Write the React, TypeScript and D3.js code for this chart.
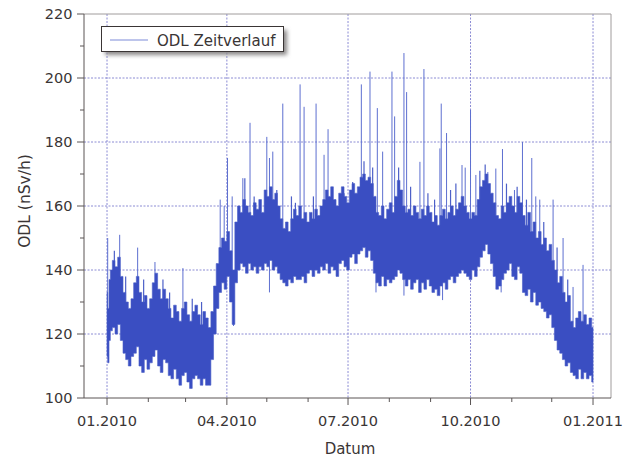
import React from "react";
import * as d3 from "d3";

// Envelope of the ODL time series (days since 01.01.2010, upper / lower value of dense band)
const bandDays = [0, 1, 2, 3, 5, 7, 9, 11, 13, 15, 17, 19, 21, 23, 25, 27, 29, 31, 33, 35, 37, 39, 41, 43, 45, 47, 49, 51, 53, 55, 57, 59, 61, 63, 65, 67, 69, 71, 73, 75, 77, 79, 81, 83, 85, 87, 89, 91, 93, 95, 97, 99, 101, 103, 105, 107, 109, 111, 113, 115, 117, 119, 121, 123, 125, 127, 129, 131, 133, 135, 137, 139, 141, 143, 145, 147, 149, 151, 153, 155, 157, 159, 161, 163, 165, 167, 169, 171, 173, 175, 177, 179, 181, 183, 185, 187, 189, 191, 193, 195, 197, 199, 201, 203, 205, 207, 209, 211, 213, 215, 217, 219, 221, 223, 225, 227, 229, 231, 233, 235, 237, 239, 241, 243, 245, 247, 249, 251, 253, 255, 257, 259, 261, 263, 265, 267, 269, 271, 273, 275, 277, 279, 281, 283, 285, 287, 289, 291, 293, 295, 297, 299, 301, 303, 305, 307, 309, 311, 313, 315, 317, 319, 321, 323, 325, 327, 329, 331, 333, 335, 337, 339, 341, 343, 345, 347, 349, 351, 353, 355, 357, 359, 361, 363, 365];
const bandHigh = [133, 128, 137, 140, 143, 141, 144, 138, 133, 130, 128, 131, 136, 138, 133, 130, 132, 128, 131, 136, 139, 134, 131, 134, 131, 128, 125, 129, 127, 124, 128, 130, 126, 124, 127, 129, 126, 123, 127, 125, 122, 127, 135, 142, 147, 150, 149, 152, 146, 140, 155, 160, 158, 162, 160, 158, 157, 161, 159, 162, 158, 165, 163, 166, 162, 164, 160, 156, 153, 155, 152, 156, 159, 157, 160, 156, 158, 155, 158, 156, 159, 157, 160, 162, 165, 163, 166, 162, 160, 164, 166, 163, 161, 165, 167, 164, 166, 169, 170, 168, 169, 167, 163, 158, 157, 160, 156, 159, 161, 158, 163, 168, 165, 160, 158, 159, 157, 160, 158, 156, 159, 157, 160, 158, 155, 157, 154, 157, 159, 156, 158, 160, 157, 159, 161, 163, 160, 158, 156, 158, 157, 162, 166, 168, 170, 167, 164, 161, 157, 156, 160, 158, 161, 163, 160, 158, 163, 161, 157, 154, 158, 152, 155, 150, 152, 148, 150, 146, 148, 143, 140, 136, 138, 133, 130, 132, 124, 122, 125, 127, 124, 126, 123, 125, 122];
const bandLow = [113, 111, 118, 121, 122, 120, 123, 118, 114, 112, 110, 113, 114, 116, 110, 108, 112, 109, 111, 113, 115, 110, 108, 112, 111, 107, 106, 109, 106, 104, 107, 108, 105, 103, 106, 107, 106, 104, 106, 104, 104, 112, 120, 128, 133, 136, 134, 138, 130, 123, 136, 140, 142, 141, 139, 142, 140, 141, 139, 141, 140, 142, 141, 143, 140, 141, 139, 137, 136, 135, 137, 136, 138, 137, 137, 138, 136, 139, 140, 138, 140, 139, 141, 140, 142, 139, 141, 140, 138, 142, 143, 141, 140, 144, 145, 142, 145, 146, 147, 144, 146, 143, 139, 136, 135, 138, 135, 137, 136, 137, 138, 140, 139, 137, 135, 137, 134, 136, 137, 133, 136, 134, 137, 135, 133, 134, 132, 135, 136, 134, 137, 138, 136, 138, 139, 140, 139, 138, 137, 140, 138, 141, 144, 146, 148, 145, 142, 138, 134, 135, 137, 139, 140, 142, 138, 137, 141, 139, 133, 132, 134, 130, 133, 129, 130, 128, 127, 125, 126, 122, 118, 115, 114, 112, 110, 111, 108, 107, 106, 109, 106, 108, 106, 107, 105];

// Isolated upward spikes (day, value)
const spikeDays = [0.5, 9.5, 23, 36, 57, 85, 88, 90.5, 94, 102, 107.4, 120, 122, 124.5, 132, 145, 148, 157, 163, 166, 191, 197.5, 203, 207, 214, 216, 223, 225, 235, 238, 250, 251, 255, 266.6, 273, 269, 277, 286, 292, 297, 306, 312, 319, 322, 325, 335, 342.5, 350, 357.5];
const spikeValues = [150, 151, 147, 142.5, 140.6, 162, 160, 175, 163, 168.7, 186, 181.6, 175, 177, 192, 198, 191, 192, 176, 184, 198, 202, 190.6, 177, 202, 188, 207.8, 195.6, 173.8, 202.8, 178, 192, 182.8, 172.8, 190, 172, 169.7, 170.6, 171.7, 177.8, 165, 180, 175, 163, 162, 162, 150, 134.7, 141.6];

// Short needles just above the band (day, value)
const needleDays = [5.5, 14, 27.5, 42, 47, 64, 71, 103.5, 110.5, 122.5, 127.5, 138.5, 141.5, 155, 178, 184.5, 193, 199.5, 219, 228, 241, 246, 258, 262, 280, 284, 300, 308, 315, 328, 338, 346];
const needleValues = [146, 138, 137, 137, 133, 131, 130, 168.7, 163, 165.6, 165, 163, 161, 163, 164, 167.5, 174, 172, 172, 166, 164, 162, 165, 167, 171, 173, 167, 166, 162, 155, 147, 137];

// Isolated downward spikes (day, value)
const dipDays = [95, 122, 202, 223, 252, 296];
const dipValues = [122.5, 133, 133, 132, 130.6, 133];

const yTicks = [100, 120, 140, 160, 180, 200, 220];
const yMinorTicks = [110, 130, 150, 170, 190, 210];
const xTickLabels = ["01.2010", "04.2010", "07.2010", "10.2010", "01.2011"];
const xTickDates = [Date.UTC(2010, 0, 1), Date.UTC(2010, 3, 1), Date.UTC(2010, 6, 1), Date.UTC(2010, 9, 1), Date.UTC(2011, 0, 1)];
const xMinorDates = [Date.UTC(2010, 1, 1), Date.UTC(2010, 2, 1), Date.UTC(2010, 4, 1), Date.UTC(2010, 5, 1), Date.UTC(2010, 7, 1), Date.UTC(2010, 8, 1), Date.UTC(2010, 10, 1), Date.UTC(2010, 11, 1)];

const DAY = 86400000;
const T0 = Date.UTC(2010, 0, 1);

export default function App() {
  const W = 638, H = 459;
  const L = 84, R = 611, T = 14, B = 398;
  const x = d3.scaleUtc()
    .domain([new Date(Date.UTC(2009, 11, 14, 17)), new Date(Date.UTC(2011, 0, 14, 12))])
    .range([L, R]);
  const y = d3.scaleLinear().domain([100, 220]).range([B, T]);
  const xd = (d: number) => x(new Date(T0 + d * DAY));

  const idx = bandDays.map((_, i) => i);
  const area = d3.area<number>()
    .x((i) => xd(bandDays[i]))
    .y0((i) => y(bandLow[i]))
    .y1((i) => y(bandHigh[i]))
    .curve(d3.curveStep)(idx) as string;

  const interp = (arr: number[], d: number) => {
    const i = Math.max(1, d3.bisectLeft(bandDays, d));
    const j = Math.min(i, bandDays.length - 1);
    const a = bandDays[j - 1], b = bandDays[j];
    const t = b === a ? 0 : (d - a) / (b - a);
    return arr[j - 1] + t * (arr[j] - arr[j - 1]);
  };

  const font = "'DejaVu Sans', Verdana, sans-serif";
  const textColor = "#3a3535";
  const gridColor = "#8c8cd4";
  const bandColor = "#3a4ec2";

  return (
    <svg width={W} height={H} style={{ display: "block", position: "absolute", left: 0, top: 0 }}>
      <defs>
        <filter id="shadow" x="-10%" y="-30%" width="130%" height="180%">
          <feGaussianBlur stdDeviation="2" />
        </filter>
        <clipPath id="plotClip">
          <rect x={L} y={T} width={R - L} height={B - T} />
        </clipPath>
      </defs>
      <rect x={0} y={0} width={W} height={H} fill="#ffffff" />

      {/* grid */}
      {yTicks.slice(1, -1).map((v) => (
        <line key={"gy" + v} x1={L} x2={R} y1={y(v)} y2={y(v)} stroke={gridColor} strokeWidth={1} strokeDasharray="2,1.5" />
      ))}
      {xTickDates.map((t) => (
        <line key={"gx" + t} x1={x(new Date(t))} x2={x(new Date(t))} y1={T} y2={B} stroke={gridColor} strokeWidth={1} strokeDasharray="2,1.5" />
      ))}

      {/* data */}
      <g clipPath="url(#plotClip)">
        {spikeDays.map((d, i) => (
          <line key={"s" + i} x1={xd(d)} x2={xd(d)} y1={y(spikeValues[i])} y2={y(interp(bandLow, d) + 4)} stroke="#5d6fd0" strokeWidth={1} />
        ))}
        {needleDays.map((d, i) => (
          <line key={"n" + i} x1={xd(d)} x2={xd(d)} y1={y(needleValues[i])} y2={y(interp(bandLow, d) + 4)} stroke="#4d60c8" strokeWidth={1.2} />
        ))}
        {dipDays.map((d, i) => (
          <line key={"dp" + i} x1={xd(d)} x2={xd(d)} y1={y(dipValues[i])} y2={y(interp(bandHigh, d) - 4)} stroke="#5d6fd0" strokeWidth={1} />
        ))}
        <path d={area} fill={bandColor} stroke="#4a5ec8" strokeWidth={0.6} />
      </g>

      {/* frame */}
      <line x1={L} x2={R} y1={T} y2={T} stroke="#a09c9c" strokeWidth={1} />
      <line x1={R} x2={R} y1={T} y2={B} stroke="#a09c9c" strokeWidth={1} />
      <line x1={L} x2={L} y1={T} y2={B} stroke="#5a5555" strokeWidth={1} />
      <line x1={L} x2={R} y1={B} y2={B} stroke="#5a5555" strokeWidth={1} />

      {/* y ticks */}
      {yTicks.map((v) => (
        <g key={"yt" + v}>
          <line x1={L - 7} x2={L} y1={y(v)} y2={y(v)} stroke="#5a5555" />
          <text x={72.5} y={y(v) + 5} textAnchor="end" fontFamily={font} fontSize={14.5} fill={textColor}>{v}</text>
        </g>
      ))}
      {yMinorTicks.map((v) => (
        <line key={"ym" + v} x1={L - 4} x2={L} y1={y(v)} y2={y(v)} stroke="#5a5555" />
      ))}

      {/* x ticks */}
      {xTickDates.map((t, i) => (
        <g key={"xt" + t}>
          <line x1={x(new Date(t))} x2={x(new Date(t))} y1={B} y2={B + 7} stroke="#5a5555" />
          <text x={x(new Date(t))} y={426} textAnchor="middle" fontFamily={font} fontSize={14.5} fill={textColor}>{xTickLabels[i]}</text>
        </g>
      ))}
      {xMinorDates.map((t) => (
        <line key={"xm" + t} x1={x(new Date(t))} x2={x(new Date(t))} y1={B} y2={B + 4} stroke="#5a5555" />
      ))}

      {/* axis titles */}
      <text x={350} y={454} textAnchor="middle" fontFamily={font} fontSize={15} fill={textColor}>Datum</text>
      <text transform="translate(30,201) rotate(-90)" textAnchor="middle" fontFamily={font} fontSize={15.5} fill={textColor}>ODL (nSv/h)</text>

      {/* legend */}
      <rect x={105} y={30} width={182} height={25} fill="#8a8888" filter="url(#shadow)" />
      <rect x={101.5} y={26.5} width={182} height={25} fill="#ffffff" stroke="#3a3535" strokeWidth={1} />
      <line x1={110} x2={148} y1={40} y2={40} stroke="#7d8bd8" strokeWidth={1} />
      <text x={157} y={45.5} fontFamily={font} fontSize={15} fill={textColor}>ODL Zeitverlauf</text>
    </svg>
  );
}
